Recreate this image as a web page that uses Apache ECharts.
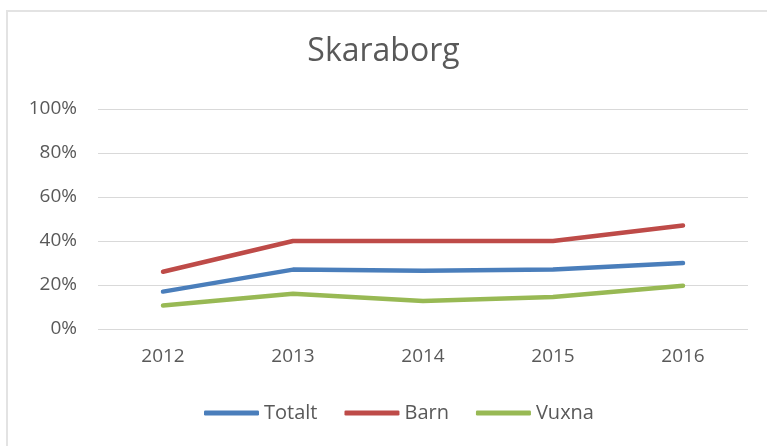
<!DOCTYPE html>
<html>
<head>
    <meta charset="utf-8">
    <title>Skaraborg</title>
    <style>
        html, body { margin: 0; padding: 0; background: #fff; overflow: hidden; }
        #frame { position: absolute; left: 6px; top: 10px; width: 800px; height: 500px; border: 2px solid #e3e3e3; }
    </style>
</head>
<body>
<div id="frame"></div>
<div id="container" style="position: absolute; left: 0; top: 0; width: 767px; height: 446px;"></div>

<script src="https://cdn.jsdelivr.net/npm/echarts@6.0.0/dist/echarts.min.js" type="text/javascript"></script>
<script type="text/javascript">

    var years = ['2012', '2013', '2014', '2015', '2016'];
    var totalt = [17, 27, 26.5, 27, 30];
    var barn = [26, 40, 40, 40, 47];
    var vuxna = [10.7, 16, 12.7, 14.5, 19.7];

    var font = 'Open Sans';
    var grey = '#595959';

    var myChart = echarts.init(document.getElementById('container'));

    function lineSeries(name, data, color) {
        return {
            name: name,
            type: 'line',
            data: data,
            symbol: 'none',
            lineStyle: { width: 4.5, color: color, cap: 'round' },
            itemStyle: { color: color }
        };
    }

    var option = {
        animation: false,
        title: {
            text: 'Skaraborg',
            left: 'center',
            top: 31,
            textStyle: { fontFamily: font, fontSize: 32, fontWeight: 'normal', color: grey }
        },
        legend: {
            bottom: 18,
            left: 199,
            icon: 'roundRect',
            itemWidth: 55,
            itemHeight: 5,
            itemGap: 27,
            textStyle: { fontFamily: font, fontSize: 20, color: grey },
            data: ['Totalt', 'Barn', 'Vuxna']
        },
        grid: {
            left: 98,
            right: 19,
            top: 109,
            bottom: 117
        },
        xAxis: {
            type: 'category',
            data: years,
            axisLine: { show: false },
            axisTick: { show: false },
            axisLabel: { fontFamily: font, fontSize: 19, color: grey, margin: 18 }
        },
        yAxis: {
            type: 'value',
            min: 0,
            max: 100,
            interval: 20,
            axisLabel: { fontFamily: font, fontSize: 19, color: grey, margin: 21, formatter: '{value}%' },
            splitLine: { lineStyle: { color: '#d9d9d9', width: 1 } }
        },
        series: [
            lineSeries('Totalt', totalt, '#4a7ebb'),
            lineSeries('Barn', barn, '#be4b48'),
            lineSeries('Vuxna', vuxna, '#98b954')
        ]
    };

    myChart.setOption(option);
</script>
</body>
</html>
